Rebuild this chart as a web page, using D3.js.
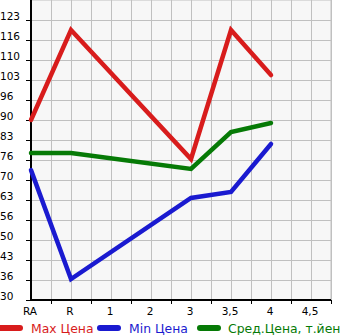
<html>
<head>
<meta charset="utf-8">
<script src="https://d3js.org/d3.v7.min.js"></script>
<style>
  body { margin: 0; background: #fff; }
  text { font-family: "DejaVu Sans", sans-serif; }
</style>
</head>
<body>
<div id="chart"></div>
<script>
// categories on x axis
let categories = ["RA", "R", "1", "2", "3", "3,5", "4", "4,5"];
// series (null = no value)
let maxPrice = [90, 120, null, null, 77, 120, 105, null];
let minPrice = [73.3, 37, null, null, 64, 66, 82, null];
let avgPrice = [79, 79, null, null, 73.7, 86, 89, null];
let yTicks = [30, 36.67, 43.33, 50, 56.67, 63.33, 70, 76.67, 83.33, 90, 96.67, 103.33, 110, 116.67, 123.33];
let seriesNames = ["Max Цена", "Min Цена", "Сред.Цена, т.йен"];
let seriesColors = ["#d81c1c", "#1a1ad0", "#067a06"];

let w = 345, h = 335;
let pLeft = 31, pRight = 331, pTop = 0, pBottom = 300;

let svg = d3.select("#chart").append("svg")
    .attr("width", w)
    .attr("height", h);

let xScale = d3.scalePoint()
    .domain(categories)
    .range([pLeft, pRight - 20]);

let yScale = d3.scaleLinear()
    .domain([30, 130])
    .range([pBottom, pTop]);

// plot background
svg.append("rect")
    .attr("x", pLeft).attr("y", pTop)
    .attr("width", pRight - pLeft).attr("height", pBottom - pTop)
    .style("fill", "#f7f7f7")
    .style("stroke", "#c0c0c0");

// grid
let step = xScale.step();
let vlines = [];
categories.forEach(function(c){ vlines.push(xScale(c)); vlines.push(xScale(c) + step / 2); });
svg.append("g").selectAll("line")
    .data(vlines).enter()
    .append("line")
    .attr("x1", d => d + 0.5).attr("x2", d => d + 0.5)
    .attr("y1", pTop).attr("y2", pBottom)
    .style("stroke", "#c0c0c0").style("stroke-width", 1);

svg.append("g").selectAll("line")
    .data(yTicks).enter()
    .append("line")
    .attr("x1", pLeft).attr("x2", pRight)
    .attr("y1", d => Math.round(yScale(d)) + 0.5).attr("y2", d => Math.round(yScale(d)) + 0.5)
    .style("stroke", "#c0c0c0").style("stroke-width", 1);

// y ticks + labels
svg.append("g").selectAll("line")
    .data(yTicks).enter()
    .append("line")
    .attr("x1", pLeft - 5).attr("x2", pLeft)
    .attr("y1", d => Math.round(yScale(d)) + 0.5).attr("y2", d => Math.round(yScale(d)) + 0.5)
    .style("stroke", "#000").style("stroke-width", 1);

svg.append("g").selectAll("text")
    .data(yTicks).enter()
    .append("text")
    .attr("x", 0)
    .attr("y", d => Math.round(yScale(d)))
    .style("font-size", "10.5px")
    .style("fill", "#000")
    .text(d => Math.floor(d + 0.001));

// axes
svg.append("line")
    .attr("x1", pLeft).attr("x2", pLeft).attr("y1", pTop).attr("y2", pBottom + 1)
    .style("stroke", "#000").style("stroke-width", 2);
svg.append("line")
    .attr("x1", pLeft - 1).attr("x2", pRight).attr("y1", pBottom).attr("y2", pBottom)
    .style("stroke", "#000").style("stroke-width", 2);

// minor ticks under x axis
svg.append("g").selectAll("line")
    .data(categories).enter()
    .append("line")
    .attr("x1", d => xScale(d) + step / 2 + 0.5).attr("x2", d => xScale(d) + step / 2 + 0.5)
    .attr("y1", pBottom).attr("y2", pBottom + 4)
    .style("stroke", "#000").style("stroke-width", 1);

// x labels
svg.append("g").selectAll("text")
    .data(categories).enter()
    .append("text")
    .attr("x", d => xScale(d) - 1)
    .attr("y", 315)
    .style("font-size", "10.5px")
    .style("text-anchor", "middle")
    .text(d => d);

// lines
let line = d3.line()
    .x(d => xScale(d.c))
    .y(d => yScale(d.v));

[maxPrice, minPrice, avgPrice].forEach(function(s, i){
  let pts = categories.map((c, j) => ({c: c, v: s[j]})).filter(d => d.v !== null);
  svg.append("path")
      .datum(pts)
      .attr("d", line)
      .style("fill", "none")
      .style("stroke", seriesColors[i])
      .style("stroke-width", 4.5)
      .style("stroke-linecap", "round")
      .style("stroke-linejoin", "miter");
});

// legend
let legendX = [0, 98, 198];
let lg = svg.append("g").selectAll("g")
    .data(seriesNames).enter()
    .append("g")
    .attr("transform", (d, i) => "translate(" + legendX[i] + ",328)");
lg.append("line")
    .attr("x1", (d, i) => i === 0 ? -5 : 2).attr("x2", 20)
    .attr("y1", 0).attr("y2", 0)
    .style("stroke", (d, i) => seriesColors[i])
    .style("stroke-width", 6)
    .style("stroke-linecap", "round");
lg.append("text")
    .attr("x", (d, i) => i === 2 ? 30 : 31)
    .attr("y", 5)
    .style("font-size", "12.4px")
    .style("fill", (d, i) => seriesColors[i])
    .text(d => d);
</script>
</body>
</html>
